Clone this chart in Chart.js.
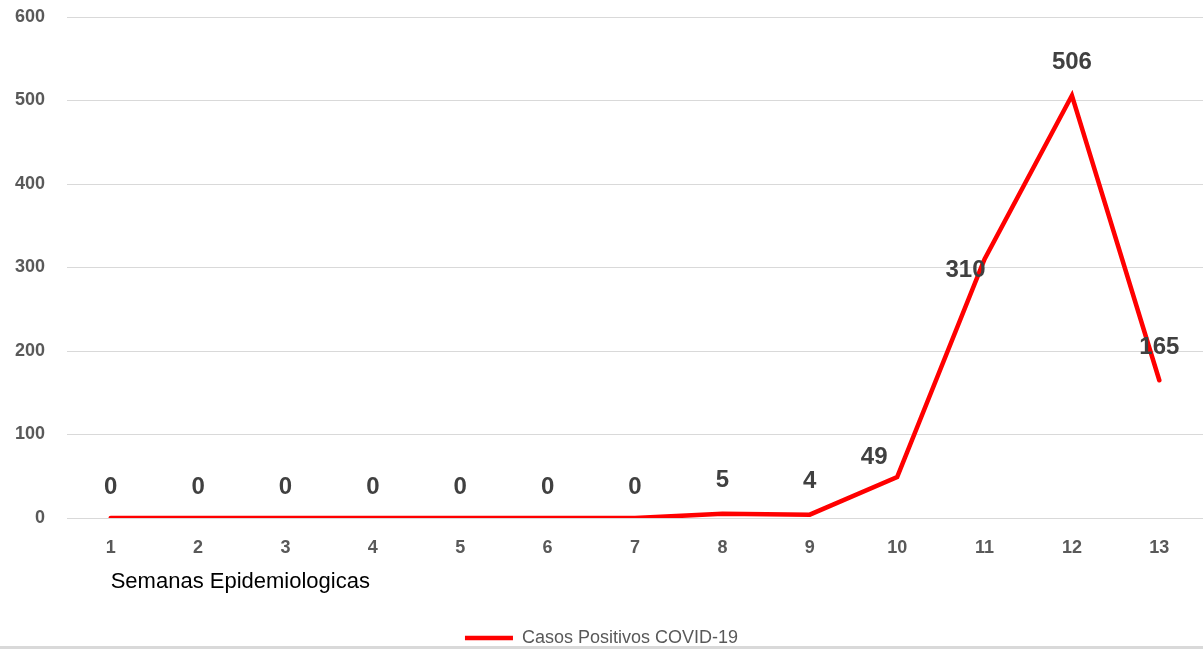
<!DOCTYPE html>
<html>
<head>
<meta charset="utf-8">
<script src="https://cdn.jsdelivr.net/npm/chart.js@4.4.0/dist/chart.umd.min.js"></script>
<style>
  body { margin: 0; background: #fff; }
  #wrap { position: relative; width: 1203px; height: 649px; overflow: hidden; }
  #edge { position: absolute; left: 0; right: 0; bottom: 0; height: 3px; background: #d9d9d9; }
</style>
</head>
<body>
<div id="wrap">
  <canvas id="myChart" width="1203" height="657"></canvas>
  <div id="edge"></div>
</div>
<script>
// semanas epidemiologicas y casos
var semanas = ['1', '2', '3', '4', '5', '6', '7', '8', '9', '10', '11', '12', '13'];
var casos = [0, 0, 0, 0, 0, 0, 0, 5, 4, 49, 310, 506, 165];
var serieNombre = 'Casos Positivos COVID-19';
var tituloX = 'Semanas Epidemiologicas';
var ticksY = [0, 100, 200, 300, 400, 500, 600];

// desplazamiento de algunas etiquetas (como en el original)
var etiquetaDx = [0, 0, 0, 0, 0, 0, 0, 0, 0, -23, -19, 0, 0];
var etiquetaDy = [-31, -31, -31, -31, -31, -31, -31, -33, -33, -20, 11, -33, -33];

var etiquetas = {
  id: 'etiquetas',
  afterDatasetsDraw: function (chart) {
    var c = chart.ctx;
    var meta = chart.getDatasetMeta(0);
    c.save();
    c.font = 'bold 24px "Liberation Sans"';
    c.fillStyle = '#404040';
    c.textAlign = 'center';
    c.textBaseline = 'middle';
    meta.data.forEach(function (p, i) {
      c.fillText(String(casos[i]), p.x + etiquetaDx[i], p.y + etiquetaDy[i]);
    });
    c.restore();
  }
};

var tituloEje = {
  id: 'tituloEje',
  afterDraw: function (chart) {
    var x = chart.scales.x;
    var c = chart.ctx;
    c.save();
    c.font = '22px "Liberation Sans"';
    c.fillStyle = '#000';
    c.textAlign = 'left';
    c.textBaseline = 'middle';
    c.fillText(tituloX, x.getPixelForValue(0), chart.chartArea.bottom + 64);
    c.restore();
  }
};

const ctx = document.getElementById('myChart').getContext('2d');
var grafico = new Chart(ctx, {
  type: 'line',
  data: {
    labels: semanas,
    datasets: [{
      label: serieNombre,
      data: casos,
      borderColor: '#ff0000',
      backgroundColor: '#ff0000',
      borderWidth: 4.5,
      borderCapStyle: 'round',
      borderJoinStyle: 'miter',
      pointRadius: 0,
      tension: 0
    }]
  },
  options: {
    responsive: false,
    animation: false,
    layout: { padding: { top: 17, right: 0, left: 0, bottom: 0 } },
    scales: {
      y: {
        min: 0,
        max: 600,
        afterBuildTicks: function (s) { s.ticks = ticksY.map(function (v) { return { value: v }; }); },
        afterFit: function (s) { s.width = 67; s.paddingTop = 0; s.paddingBottom = 0; },
        border: { display: false },
        grid: { color: '#d9d9d9', lineWidth: 1, drawTicks: false },
        ticks: {
          padding: 22,
          color: '#595959',
          font: { family: 'Liberation Sans', size: 18, weight: 'bold' }
        }
      },
      x: {
        offset: true,
        border: { display: false },
        grid: { display: false, drawTicks: false },
        ticks: {
          padding: 19,
          color: '#595959',
          font: { family: 'Liberation Sans', size: 18, weight: 'bold' }
        },
        title: {
          display: true,
          text: tituloX,
          color: 'rgba(0,0,0,0)',
          font: { family: 'Liberation Sans', size: 22 },
          padding: { top: 11, bottom: 6 }
        }
      }
    },
    plugins: {
      legend: {
        position: 'bottom',
        labels: {
          usePointStyle: true,
          pointStyle: 'line',
          pointStyleWidth: 48,
          padding: 8,
          color: '#595959',
          font: { family: 'Liberation Sans', size: 18 }
        }
      },
      tooltip: { enabled: false }
    }
  },
  plugins: [etiquetas, tituloEje]
});
</script>
</body>
</html>
